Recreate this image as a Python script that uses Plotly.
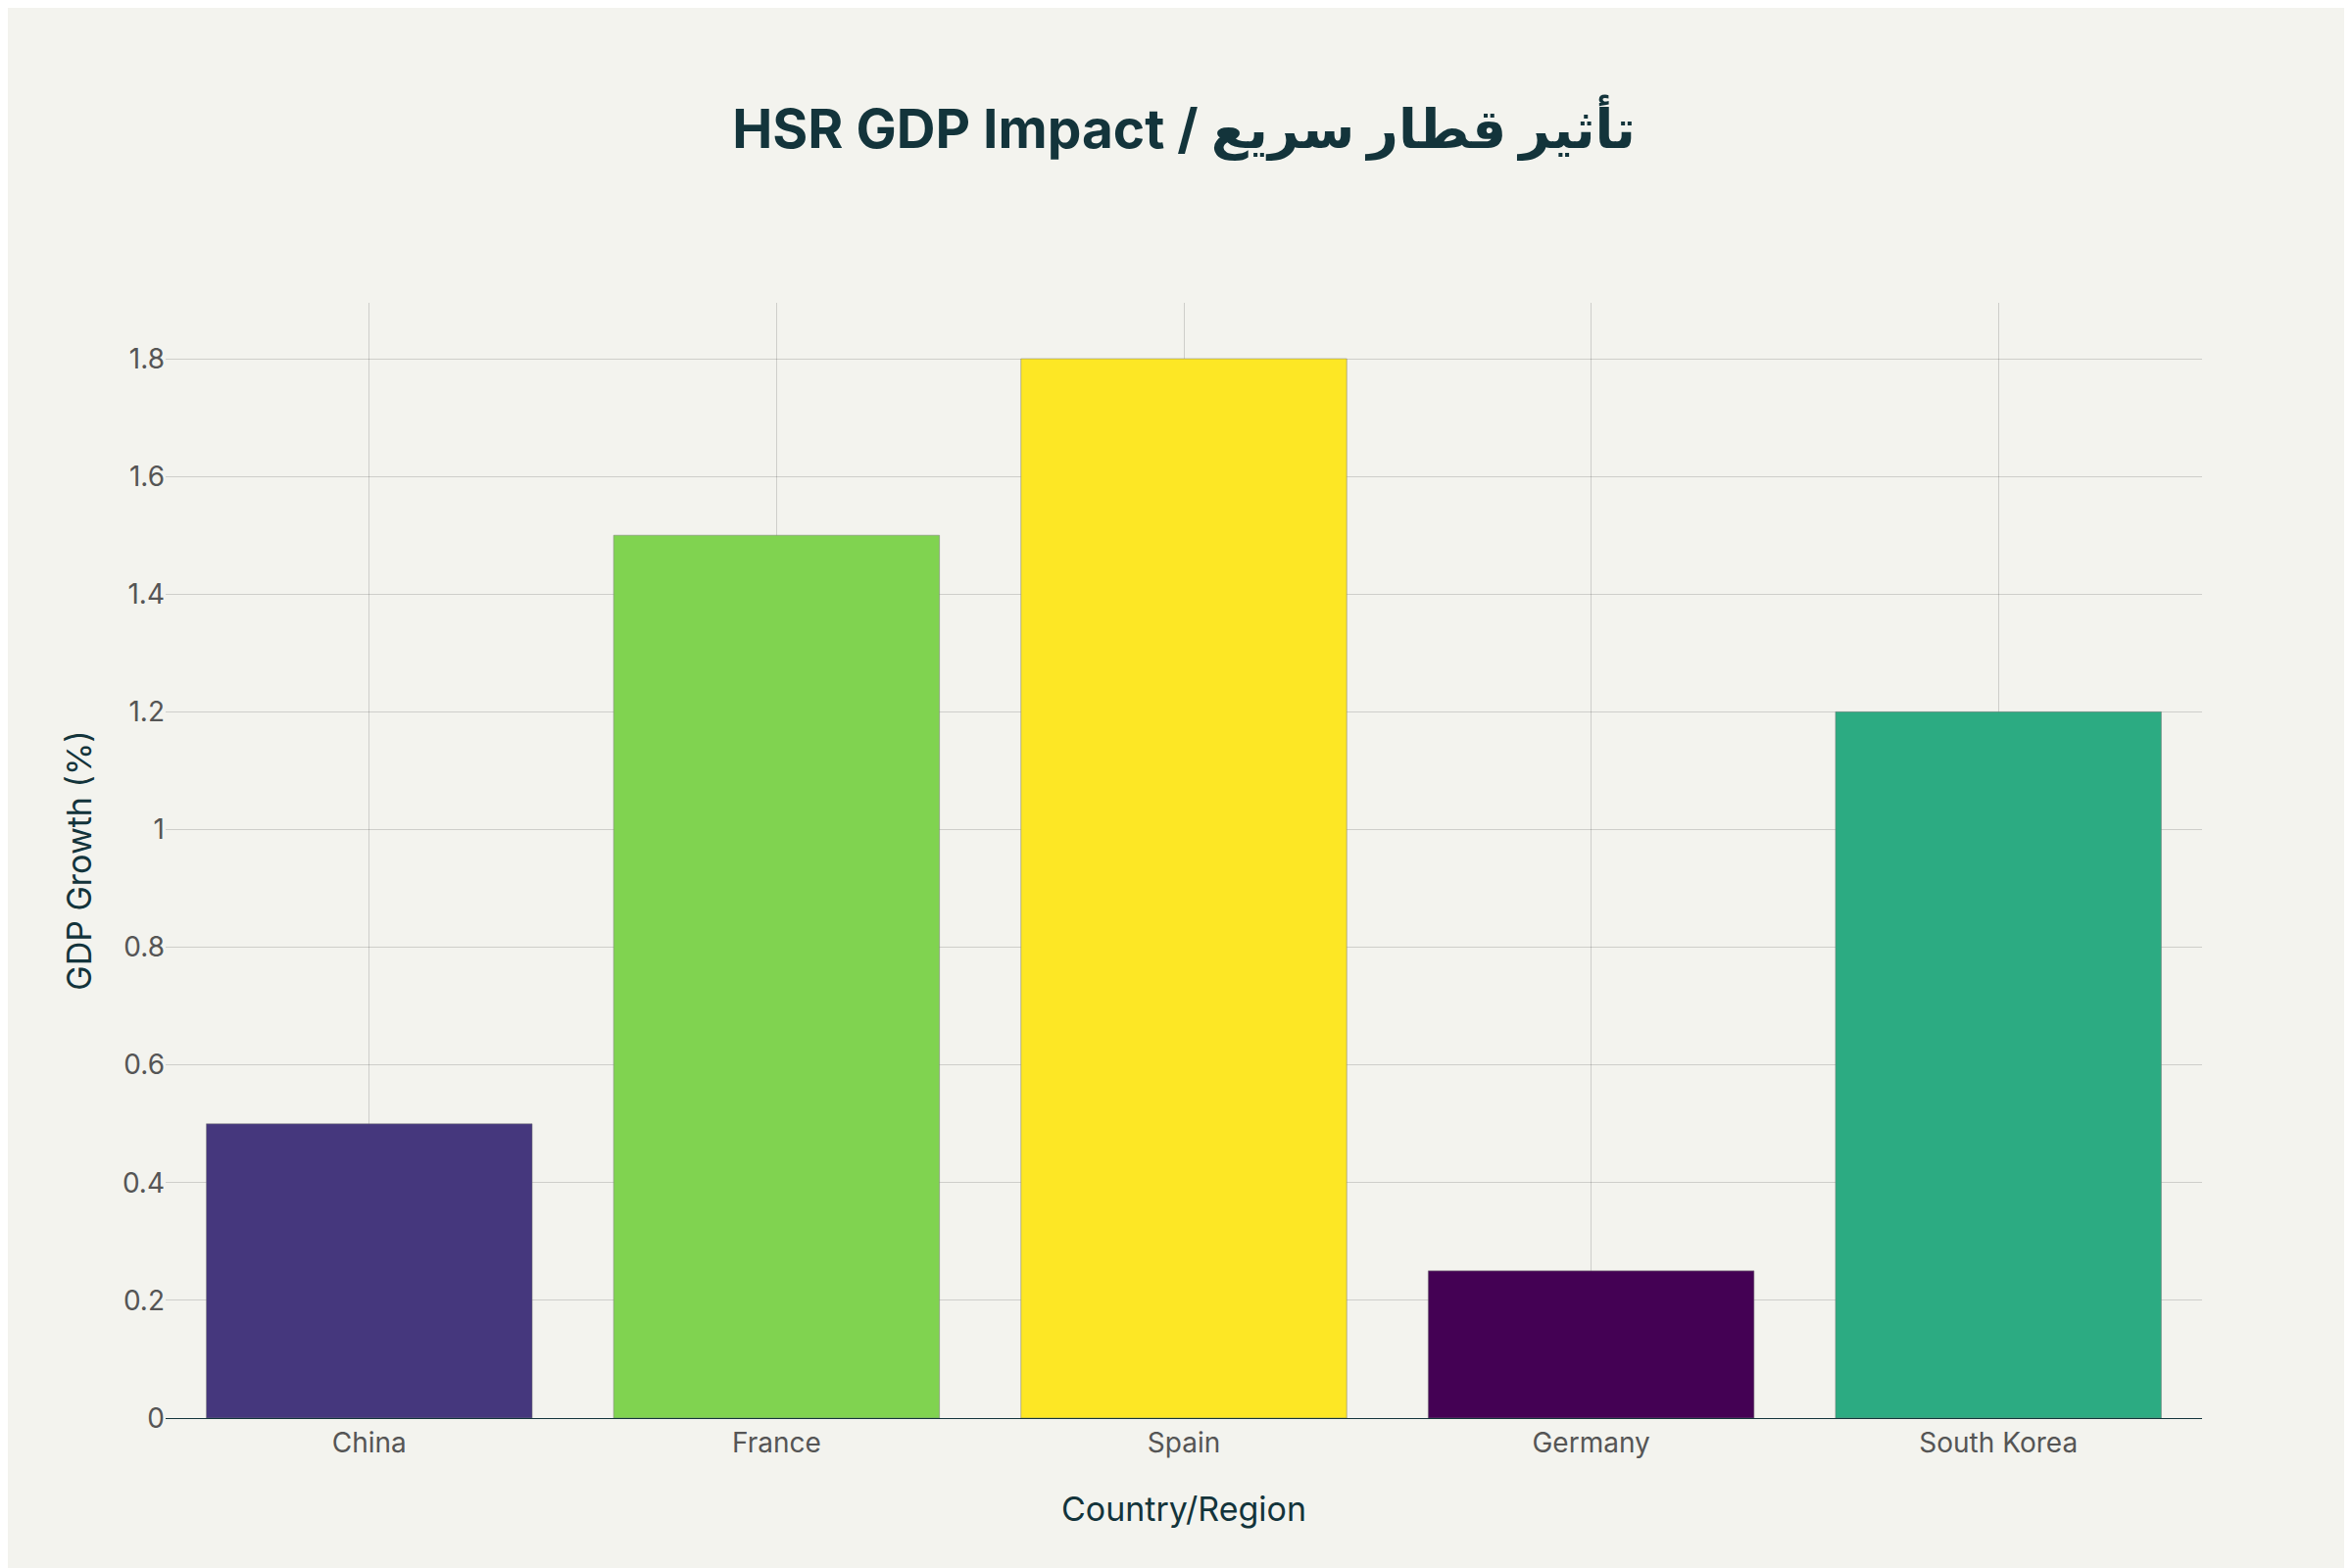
import plotly.graph_objects as go

countries = ["China", "France", "Spain", "Germany", "South Korea"]
gdp_growth = [0.5, 1.5, 1.8, 0.25, 1.2]
bar_colors = ["#45377d", "#80d350", "#fde725", "#440154", "#2cab82"]

fig = go.Figure(go.Bar(
    x=countries, y=gdp_growth,
    marker=dict(color=bar_colors, line=dict(color="rgba(120,120,120,0.5)", width=1)),
    width=0.8,
))
fig.update_layout(
    width=2400, height=1600,
    paper_bgcolor="#f3f3ee", plot_bgcolor="#f3f3ee",
    font=dict(family="Inter, Noto Sans, DejaVu Sans", color="#13343b"),
    title=dict(text="<b>HSR GDP Impact / تأثير قطار سريع</b>", x=0.5, xanchor="center",
               y=0.935, font=dict(size=55, color="#13343b")),
    margin=dict(l=161, r=161, t=301, b=161),
    showlegend=False,
    xaxis=dict(title=dict(text="Country/Region", font=dict(size=34), standoff=40),
               tickfont=dict(size=28, color="#555"), showgrid=True,
               gridcolor="rgba(0,0,0,0.15)", showline=True, linecolor="#13343b",
               ticks=""),
    yaxis=dict(title=dict(text="GDP Growth (%)", font=dict(size=34), standoff=20),
               tickfont=dict(size=28, color="#555"), range=[0, 1.895], dtick=0.2,
               gridcolor="rgba(0,0,0,0.15)", zeroline=False),
)
fig.write_html("out.html")
